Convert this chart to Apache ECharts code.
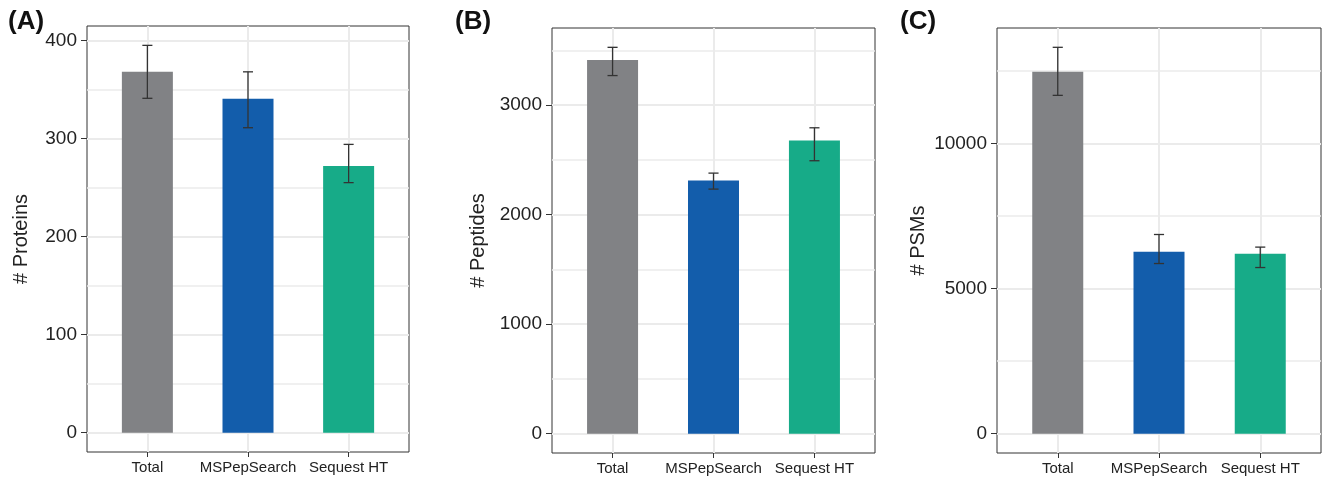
<!DOCTYPE html>
<html>
<head>
<meta charset="utf-8">
<script src="https://cdn.jsdelivr.net/npm/echarts@6/dist/echarts.min.js"></script>
<style>
html, body { margin: 0; padding: 0; background: #fff; }
#main { width: 1325px; height: 481px; }
</style>
</head>
<body>
<div id="main"></div>
<script>
// categories and colours
var categories = ['Total', 'MSPepSearch', 'Sequest HT'];
var barColors = ['#818285', '#135dab', '#17ab88'];

// (A) proteins
var proteinMean = [368, 340.5, 272];
var proteinLow = [341, 311, 255];
var proteinHigh = [395, 368, 294];
var proteinTicks = [0, 100, 200, 300, 400];
var proteinMinor = [50, 150, 250, 350];

// (B) peptides
var peptideMean = [3414, 2313, 2677];
var peptideLow = [3271, 2234, 2493];
var peptideHigh = [3529, 2380, 2794];
var peptideTicks = [0, 1000, 2000, 3000];
var peptideMinor = [500, 1500, 2500, 3500];

// (C) PSMs
var psmMean = [12485, 6272, 6203];
var psmLow = [11667, 5868, 5730];
var psmHigh = [13324, 6869, 6434];
var psmTicks = [0, 5000, 10000];
var psmMinor = [2500, 7500, 12500];

var catPos = [1, 2, 3];

var panels = [
    { tag: '(A)', title: '# Proteins', mean: proteinMean, low: proteinLow, high: proteinHigh,
      ticks: proteinTicks, minor: proteinMinor, min: -19.75, max: 414.75,
      left: 87, top: 26, width: 322, height: 426, tagX: 8, nameGap: 56 },
    { tag: '(B)', title: '# Peptides', mean: peptideMean, low: peptideLow, high: peptideHigh,
      ticks: peptideTicks, minor: peptideMinor, min: -176.5, max: 3705.5,
      left: 552, top: 28, width: 323, height: 425, tagX: 455, nameGap: 64 },
    { tag: '(C)', title: '# PSMs', mean: psmMean, low: psmLow, high: psmHigh,
      ticks: psmTicks, minor: psmMinor, min: -666, max: 13990,
      left: 997, top: 28, width: 324, height: 425, tagX: 900, nameGap: 69 }
];

var FONT = 'Liberation Sans, Arial, sans-serif';
var grids = [], xAxes = [], yAxes = [], series = [], graphics = [];

panels.forEach(function (p, i) {
    grids.push({
        left: p.left, top: p.top, width: p.width, height: p.height,
        show: true, borderColor: '#333', borderWidth: 1, backgroundColor: 'transparent'
    });
    xAxes.push({
        type: 'value', gridIndex: i, min: 0.4, max: 3.6,
        axisLine: { show: false, onZero: false },
        axisTick: { show: true, customValues: catPos, length: 5, lineStyle: { color: '#333', width: 1 } },
        axisLabel: {
            customValues: catPos, margin: 8, fontSize: 15, color: '#222', fontFamily: FONT,
            formatter: function (v) { return categories[Math.round(v) - 1]; }
        },
        splitLine: { show: true, lineStyle: { color: '#ebebeb', width: 2 } }
    });
    yAxes.push({
        type: 'value', gridIndex: i, min: p.min, max: p.max,
        name: p.title, nameLocation: 'middle', nameGap: p.nameGap,
        nameTextStyle: { fontSize: 20, color: '#222', fontFamily: FONT },
        axisLine: { show: false, onZero: false },
        axisTick: { show: true, customValues: p.ticks, length: 6, lineStyle: { color: '#333', width: 1 } },
        axisLabel: {
            customValues: p.ticks, margin: 10, fontSize: 19, color: '#222', fontFamily: FONT,
            formatter: function (v) { return String(v); }
        },
        splitLine: { show: true, lineStyle: { color: '#ebebeb', width: 2 } }
    });
    // minor horizontal grid lines, kept under the bars
    series.push({
        type: 'line', xAxisIndex: i, yAxisIndex: i, data: [], z: 0, silent: true,
        markLine: {
            silent: true, symbol: 'none', z: 0, label: { show: false },
            lineStyle: { color: '#ebebeb', width: 1.5, type: 'solid' },
            emphasis: { disabled: true },
            data: p.minor.map(function (v) { return { yAxis: v }; })
        }
    });
    series.push({
        type: 'bar', xAxisIndex: i, yAxisIndex: i, barWidth: 51, z: 2,
        data: p.mean.map(function (v, k) {
            return { value: [catPos[k], v], itemStyle: { color: barColors[k] } };
        })
    });
    series.push({
        type: 'custom', xAxisIndex: i, yAxisIndex: i, z: 3,
        data: p.mean.map(function (v, k) { return [catPos[k], p.low[k], p.high[k]]; }),
        renderItem: function (params, api) {
            var x = api.value(0);
            var lo = api.coord([x, api.value(1)]);
            var hi = api.coord([x, api.value(2)]);
            var l = api.coord([x - 0.05, 0])[0];
            var r = api.coord([x + 0.05, 0])[0];
            var st = { stroke: '#333', lineWidth: 1.3 };
            return {
                type: 'group',
                children: [
                    { type: 'line', shape: { x1: lo[0], y1: lo[1], x2: hi[0], y2: hi[1] }, style: st },
                    { type: 'line', shape: { x1: l, y1: lo[1], x2: r, y2: lo[1] }, style: st },
                    { type: 'line', shape: { x1: l, y1: hi[1], x2: r, y2: hi[1] }, style: st }
                ]
            };
        }
    });
    graphics.push({
        type: 'text', left: p.tagX, top: 9,
        style: { text: p.tag, font: 'bold 26px ' + FONT, fill: '#111' }
    });
});

var chart = echarts.init(document.getElementById('main'));
chart.setOption({
    animation: false,
    grid: grids,
    xAxis: xAxes,
    yAxis: yAxes,
    series: series,
    graphic: graphics
});
</script>
</body>
</html>
